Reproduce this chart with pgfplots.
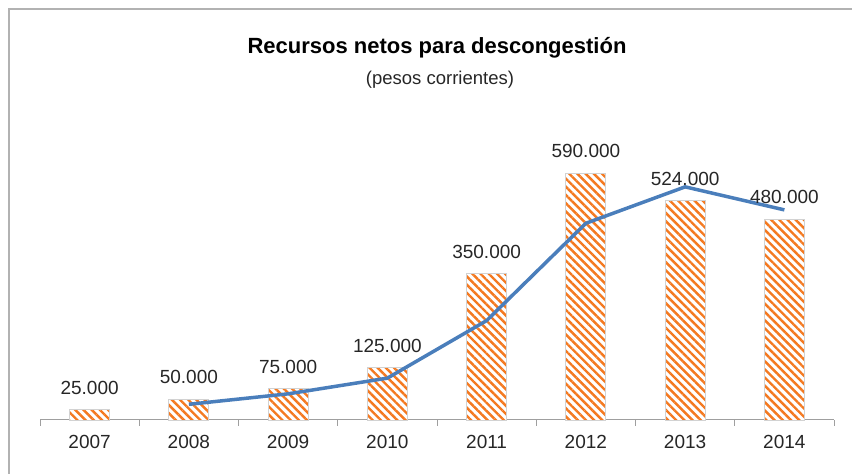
\documentclass[border=0pt]{standalone}
\usepackage{pgfplots}
\pgfplotsset{compat=1.18}
\usepackage{fontspec}
\setmainfont{Liberation Sans}
\usetikzlibrary{patterns.meta}
\definecolor{barorange}{HTML}{F47920}
\definecolor{lineblue}{HTML}{4A7EBB}
\definecolor{txt}{HTML}{262626}
\begin{document}
\begin{tikzpicture}[x=1pt,y=1pt]
\path[use as bounding box] (0,0) rectangle (852,474);
\draw[gray!60, line width=2.5pt] (9,0) -- (9,465) -- (852,465);
\node[font=\bfseries\fontsize{22}{26}\selectfont, anchor=base, text=black] at (437,420) {Recursos netos para descongestión};
\node[font=\fontsize{18.5}{22}\selectfont, anchor=base, text=txt] at (440,389) {(pesos corrientes)};
\begin{axis}[
  at={(40pt,54pt)}, anchor=south west,
  scale only axis, width=794pt, height=293pt,
  xmin=-0.5, xmax=7.5, ymin=0, ymax=700000,
  axis x line*=bottom, axis y line=none,
  x axis line style={-, draw=gray!75, line width=1pt},
  xtick={0,...,7},
  xticklabels={2007,2008,2009,2010,2011,2012,2013,2014},
  major tick length=0pt,
  minor xtick={-0.5,0.5,...,7.5},
  minor tick length=6pt,
  tick align=outside,
  minor tick style={draw=gray!75, line width=1pt},
  xticklabel style={font=\fontsize{19}{22}\selectfont, text=txt, yshift=-12pt},
  ytick=\empty,
  clip=false,
  /pgf/number format/assume math mode=true,
]
\addplot[ybar, bar width=40pt, draw=gray!35, line width=0.8pt,
  preaction={fill=white},
  pattern={Lines[angle=-45,distance=5.8pt,line width=2.4pt]}, pattern color=barorange,
  nodes near coords={\pgfmathprintnumber[fixed,precision=0,1000 sep={.}]{\pgfplotspointmeta}},
  every node near coord/.append style={font=\fontsize{19}{22}\selectfont, text=txt, yshift=11.5pt, draw=none}
] coordinates {
  (0,25000) (1,50000) (2,75000) (3,125000) (4,350000) (5,590000) (6,524000) (7,480000)
};
\addplot[lineblue, line width=3.5pt, line join=round, mark=none] coordinates {
  (1,37500) (2,62500) (3,100000) (4,237500) (5,470000) (6,557000) (7,502000)
};
\end{axis}
\end{tikzpicture}
\end{document}
